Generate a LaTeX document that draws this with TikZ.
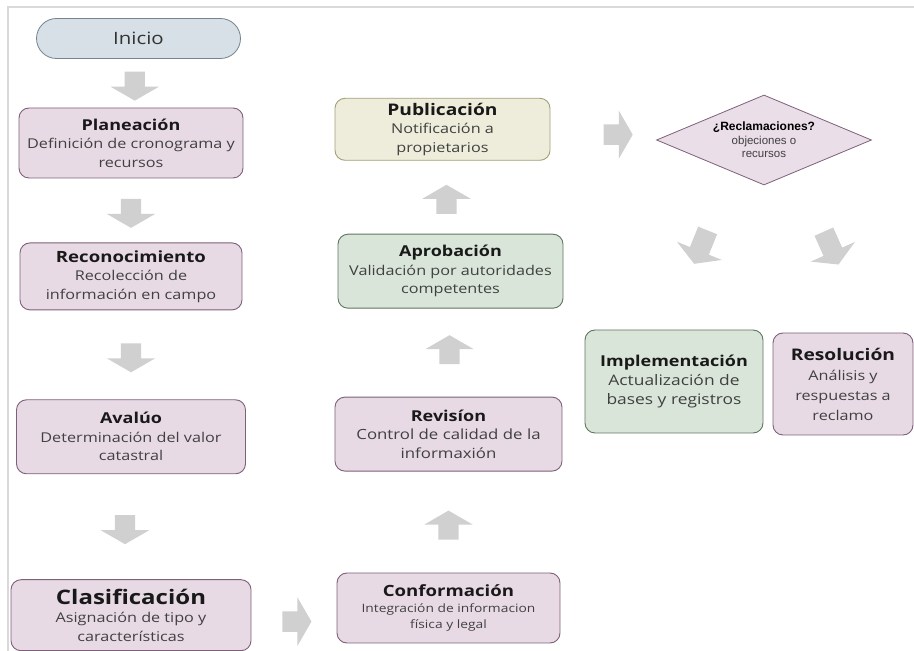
\documentclass[tikz,border=0pt]{standalone}
\usepackage{fontspec}
\setmainfont{Open Sans}[FakeStretch=1.2]
\newfontfamily\smallsans{Liberation Sans}
\usetikzlibrary{shapes.geometric, shapes.arrows, positioning, calc}
\usepackage{xcolor}

\definecolor{pinkfill}{HTML}{E8DAE5}
\definecolor{pinkdraw}{HTML}{7E6079}
\definecolor{greenfill}{HTML}{DAE5D9}
\definecolor{greendraw}{HTML}{5E7560}
\definecolor{olivefill}{HTML}{EEEDDB}
\definecolor{olivedraw}{HTML}{A3A078}
\definecolor{startfill}{HTML}{D6E0E6}
\definecolor{startdraw}{HTML}{75848E}
\definecolor{arrowgray}{HTML}{D0D0D0}
\definecolor{framegray}{HTML}{D9D9D9}
\definecolor{bodytext}{HTML}{404040}

\newcommand{\steptitle}[2][15]{{\fontsize{#1}{18}\selectfont\bfseries\color{black!90}#2}}

\begin{document}
\begin{tikzpicture}[x=1pt, y=1pt]
    % Styles
    \tikzstyle{block} = [rectangle, draw=pinkdraw, fill=pinkfill, line width=0.9pt, rounded corners=10pt, align=center, text=bodytext, font=\fontsize{13.5}{18.5}\selectfont, inner sep=2pt]
    \tikzstyle{blockgreen} = [block, draw=greendraw, fill=greenfill]
    \tikzstyle{blockolive} = [block, draw=olivedraw, fill=olivefill]
    \tikzstyle{startnode} = [rectangle, draw=startdraw, fill=startfill, line width=0.8pt, rounded corners=20pt, minimum width=204pt, minimum height=40pt, font=\fontsize{17}{20}\selectfont, text=black!80]
    \tikzstyle{decision} = [diamond, aspect=2.4, draw=pinkdraw, fill=pinkfill!90!white, line width=0.8pt, minimum width=215pt, minimum height=90pt, inner sep=0pt, align=center, text=bodytext, font=\smallsans\fontsize{11.5}{13.5}\selectfont]
    \tikzstyle{fatarrow} = [single arrow, fill=arrowgray, draw=none, inner sep=10pt, single arrow head extend=14pt, single arrow tip angle=120, minimum height=29pt]

    \useasboundingbox (0,0) rectangle (914,651);
    \draw [framegray, line width=2pt] (8,0) -- (8,644) -- (914,644);

    % Nodes
    \node [startnode] (inicio) at (138.5,612.5) {Inicio};
    \node [block, minimum width=224pt, minimum height=70pt] (plan) at (131,508) {\steptitle{Planeación}\\ Definición de cronograma y\\ recursos};
    \node [block, below=64pt of plan, minimum width=222pt, minimum height=67pt] (recon) {\steptitle[15.5]{Reconocimiento}\\ Recolección de\\ información en campo};
    \node [block, below=89pt of recon, minimum width=229pt, minimum height=74pt] (avaluo) {\steptitle{Avalúo}\\ Determinación del valor\\ catastral};
    \node [block, below=105pt of avaluo, minimum width=240pt, minimum height=71pt] (clasif) {\steptitle[20]{Clasificación}\\ Asignación de tipo y\\ características};

    \node [block, minimum width=223pt, minimum height=70pt, font=\fontsize{11.5}{16}\selectfont] (conform) at (448.5,43) {\steptitle[15.5]{Conformación}\\ Integración de informacion\\ física y legal};
    \node [block, above=101pt of conform, minimum width=227pt, minimum height=74pt, font=\fontsize{14}{18.5}\selectfont] (revision) {\steptitle{Revisíon}\\ Control de calidad de la\\ informaxión};
    \node [blockgreen, above=88pt of revision, xshift=2pt, minimum width=225pt, minimum height=74pt] (aprob) {\steptitle{Aprobación}\\ Validación por autoridades\\ competentes};
    \node [blockolive, above=73pt of aprob, xshift=-8pt, minimum width=215pt, minimum height=62pt] (publica) {\steptitle[16]{Publicación}\\ Notificación a\\ propietarios};

    \node [decision] (reclamo) at (764,511) {{\fontsize{12}{13.5}\selectfont\bfseries\color{black}¿Reclamaciones?}\\ objeciones o\\ recursos};
    \node [blockgreen, minimum width=178pt, minimum height=103pt, font=\fontsize{14.5}{19}\selectfont] (implem) at (674,269.5) {\steptitle{Implementación}\\ Actualización de\\ bases y registros};
    \node [block, minimum width=140pt, minimum height=102pt, font=\fontsize{13.5}{20}\selectfont] (resol) at (843,267) {\steptitle[16]{Resolución}\\ Análisis y\\ respuestas a\\ reclamo};

    % Edges
    \node [fatarrow, rotate=-90] (arr1) at ($(inicio.south)!.5!(plan.north)$) {};
    \node [fatarrow, rotate=-90] (arr2) at ($(plan.south)!.5!(recon.north)$) {};
    \node [fatarrow, rotate=-90] (arr3) at ($(recon.south)!.5!(avaluo.north)$) {};
    \node [fatarrow, rotate=-90, yshift=-6pt] (arr4) at ($(avaluo.south)!.5!(clasif.north)$) {};
    \node [fatarrow, yshift=-10pt] (arr5) at ($(clasif.east)!.5!(conform.west)$) {};
    \node [fatarrow, rotate=90, xshift=-6pt] (arr6) at ($(conform.north)!.5!(revision.south)$) {};
    \node [fatarrow, rotate=90] (arr7) at ($(revision.north)!.5!(aprob.south)$) {};
    \node [fatarrow, rotate=90, xshift=-5pt] (arr8) at ($(aprob.north)!.5!(publica.south)$) {};
    \node [fatarrow, xshift=12pt] (arr9) at ($(publica.east)!.5!(reclamo.west)$) {};
    \node [fatarrow, rotate=248, minimum height=36pt] (arr10) at ($(reclamo.south)+(-62,-59)$) {};
    \node [fatarrow, rotate=294, minimum height=36pt] (arr11) at ($(reclamo.south)+(66,-60)$) {};

\end{tikzpicture}
\end{document}
